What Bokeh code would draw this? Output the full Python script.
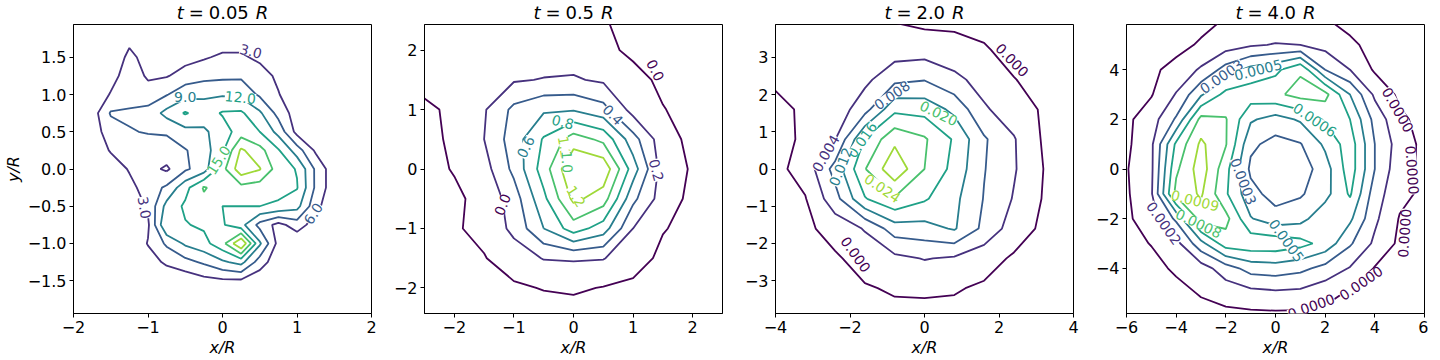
import numpy as np
from bokeh.plotting import figure
from bokeh.layouts import row, column
from bokeh.models import Label, FixedTicker
from bokeh.palettes import Viridis256
from bokeh.embed import file_html
from bokeh.resources import INLINE

FONT = "DejaVu Sans"
FW, FH = 298, 289
TH = 24  # height of the title strip above each panel

# ---------------- panel 1 : t = 0.05 R ----------------
title1 = "0.05"
x1 = [-2.0, -1.75, -1.5, -1.25, -1.0, -0.75, -0.5, -0.25, 0.0,
      0.25, 0.5, 0.75, 1.0, 1.25, 1.5, 1.75, 2.0]
y1 = [2.0, 1.75, 1.5, 1.25, 1.0, 0.75, 0.5, 0.25, 0.0,
      -0.25, -0.5, -0.75, -1.0, -1.25, -1.5, -1.75, -2.0]
z1 = [
    [0, 0, 0, 0, 0, 0, 0, 0, 0, 0, 0, 0, 0, 0, 0, 0, 0],
    [0, 0, 0, 2, 1, 0, 0, 0.5, 1.5, 1.5, 1, 0, 0, 0, 0, 0, 0],
    [0, 0, 0, 4, 1.5, 1, 2, 2.7, 3.5, 3.5, 2.3, 0.5, 0, 0, 0, 0, 0],
    [0, 0, 1.5, 5, 2.5, 2.8, 4.2, 5, 5.3, 5.5, 4.5, 2.3, 0, 0, 0, 0, 0],
    [0, 0, 3.3, 4.5, 4.5, 5.8, 8, 8.5, 8.7, 8.2, 5.5, 3.2, 0.5, 0, 0, 0, 0],
    [0, 1.5, 6.3, 6.5, 7, 10, 12.3, 10.5, 12.3, 12.5, 9.5, 5, 1.5, 0, 0, 0, 0],
    [0, 1.5, 4.5, 5.8, 6.2, 6.3, 8, 8.5, 10.5, 13.5, 12, 8, 2, 0, 0, 0, 0],
    [0, 0.5, 3.3, 4.5, 4.5, 4.8, 5.8, 7.5, 11.5, 18.5, 16, 12.3, 7.5, 2.5, 0, 0, 0],
    [0, 0, 1, 3.3, 4, 2.5, 5.5, 7.5, 14, 20, 18.2, 13.5, 11.8, 5.5, 1, 0, 0],
    [0, 0, 0.5, 2, 4.5, 6.5, 11, 15.3, 13.5, 14, 13.5, 13, 12.2, 5.5, 1, 0, 0],
    [0, 0, 0, 0.5, 3.5, 10, 12.5, 14, 12, 12, 12, 11.5, 10, 4, 0.5, 0, 0],
    [0, 0, 0, 0, 2.5, 12, 11.8, 12.5, 12.3, 10, 5, 2, 4.5, 1.5, 0, 0, 0],
    [0, 0, 0, 0, 3.2, 6.5, 9.5, 11, 14, 21, 9.5, 2, 0.5, 0, 0, 0, 0],
    [0, 0, 0, 0, 1.5, 3.6, 5, 6.5, 8.5, 10, 4.5, 1, 0, 0, 0, 0, 0],
    [0, 0, 0, 0, 0, 0.5, 1, 2, 2.5, 2.5, 1, 0, 0, 0, 0, 0, 0],
    [0, 0, 0, 0, 0, 0, 0, 0, 0, 0, 0, 0, 0, 0, 0, 0, 0],
    [0, 0, 0, 0, 0, 0, 0, 0, 0, 0, 0, 0, 0, 0, 0, 0, 0],
]
scale1 = 1.0
levels1 = [3.0, 6.0, 9.0, 12.0, 15.0, 18.0]
colidx1 = [1, 2, 3, 4, 5, 6]
xr1, yr1 = (-2.0, 2.0), (-1.94, 1.94)
xticks1 = [-2, -1, 0, 1, 2]
xticklab1 = ["−2", "−1", "0", "1", "2"]
yticks1 = [-1.5, -1.0, -0.5, 0.0, 0.5, 1.0, 1.5]
yticklab1 = ["−1.5", "−1.0", "−0.5", "0.0", "0.5", "1.0", "1.5"]
clabels1 = [("3.0", 0.38, 1.58, -0.25, 1), ("9.0", -0.5, 0.96, 0.0, 3),
            ("12.0", 0.24, 0.96, -0.1, 4), ("15.0", -0.05, 0.12, 1.0, 5),
            ("3.0", -1.05, -0.52, -1.4, 1), ("6.0", 1.22, -0.6, 1.0, 2)]

# ---------------- panel 2 : t = 0.5 R ----------------
title2 = "0.5"
x2 = [-2.5, -2.0, -1.5, -1.0, -0.5, 0.0, 0.5, 1.0, 1.5, 2.0, 2.5]
y2 = [2.5, 2.0, 1.5, 1.0, 0.5, 0.0, -0.5, -1.0, -1.5, -2.0, -2.5]
z2 = [
    [0.05, 0.05, 0.05, 0.05, 0.05, 0.05, 0.01, -0.05, -0.05, -0.05, -0.05],
    [0.05, 0.05, 0.05, 0.06, 0.08, 0.1, 0.06, -0.05, -0.05, -0.05, -0.05],
    [0.05, 0.05, 0.08, 0.18, 0.21, 0.22, 0.17, 0.08, -0.05, -0.08, -0.1],
    [-0.03, 0.03, 0.18, 0.45, 0.57, 0.58, 0.47, 0.12, 0.01, -0.08, -0.1],
    [-0.05, 0.03, 0.2, 0.5, 0.82, 1.1, 0.95, 0.48, 0.08, -0.05, -0.1],
    [-0.05, 0.01, 0.12, 0.45, 0.9, 1.4, 1.35, 0.7, 0.1, -0.02, -0.1],
    [-0.1, -0.03, 0.05, 0.3, 0.75, 1.25, 1.1, 0.45, 0.1, -0.05, -0.1],
    [-0.1, -0.02, 0.05, 0.25, 0.6, 0.9, 0.7, 0.2, 0.01, -0.05, -0.1],
    [-0.1, -0.08, -0.01, 0.1, 0.21, 0.22, 0.21, 0.08, -0.04, -0.1, -0.1],
    [-0.1, -0.1, -0.08, -0.03, 0.01, 0.03, -0.01, -0.04, -0.08, -0.1, -0.1],
    [-0.1, -0.1, -0.1, -0.1, -0.1, -0.1, -0.1, -0.1, -0.1, -0.1, -0.1],
]
scale2 = 1.0
levels2 = [0.0, 0.2, 0.4, 0.6, 0.8, 1.0, 1.2]
colidx2 = [0, 1, 2, 3, 4, 5, 6]
xr2, yr2 = (-2.5, 2.5), (-2.43, 2.43)
xticks2 = [-2, -1, 0, 1, 2]
xticklab2 = ["−2", "−1", "0", "1", "2"]
yticks2 = [-2, -1, 0, 1, 2]
yticklab2 = ["−2", "−1", "0", "1", "2"]
clabels2 = [("0.0", 1.37, 1.66, -1.1, 0), ("0.4", 0.66, 0.91, -0.8, 2),
            ("0.8", -0.18, 0.79, -0.25, 4), ("0.6", -0.8, 0.37, 1.1, 3),
            ("1.2", -0.15, 0.37, -1.4, 6), ("1.0", -0.11, 0.12, -1.5, 5),
            ("1.2", 0.04, -0.46, -1.0, 6), ("0.2", 1.39, -0.02, -1.3, 1),
            ("0.0", -1.19, -0.6, 1.2, 0)]

# ---------------- panel 3 : t = 2.0 R ----------------
title3 = "2.0"
x3 = [-4.0, -3.2, -2.4, -1.6, -0.8, 0.0, 0.8, 1.6, 2.4, 3.2, 4.0]
y3 = [4.0, 3.2, 2.4, 1.6, 0.8, 0.0, -0.8, -1.6, -2.4, -3.2, -4.0]
z3 = [  # in units of 1e-3
    [0.2, 0.2, 0.2, 0.1, -0.2, -1, -1, -1, -1, -1, -1],
    [0.3, 0.3, 0.4, 0.8, 2, 2.2, 1.5, 0.3, -1, -1, -1],
    [0.3, 0.5, 1, 3, 7, 7.8, 5, 2.5, 0.1, -1, -1],
    [-0.5, 0.3, 1.5, 6.5, 15, 14.5, 11, 4.5, 2, -0.5, -1],
    [-1, 0.5, 3.8, 16.3, 23, 20.5, 15.5, 8.5, 4.3, -0.5, -1],
    [-1, 1.5, 9.5, 19.8, 27, 20, 14.7, 8.2, 4.4, -0.05, -1],
    [-1, -0.2, 6.5, 15.7, 19.5, 16.5, 13, 7.8, 3.7, -0.3, -1],
    [-1, -0.8, 1.5, 4.3, 10, 10.5, 12.4, 7, 2, -0.8, -1],
    [-1, -1, -0.5, 1.5, 3, 4.2, 3.5, 1.5, -0.5, -1, -1],
    [-1, -1, -1, -0.3, 0.4, 0.5, 0.3, -0.5, -1, -1, -1],
    [-1, -1, -1, -1, -1, -1, -1, -1, -1, -1, -1],
]
scale3 = 1e-3
levels3 = [0.0, 0.004, 0.008, 0.012, 0.016, 0.020, 0.024]
colidx3 = [0, 1, 2, 3, 4, 5, 6]
xr3, yr3 = (-4.0, 4.0), (-3.88, 3.88)
xticks3 = [-4, -2, 0, 2, 4]
xticklab3 = ["−4", "−2", "0", "2", "4"]
yticks3 = [-3, -2, -1, 0, 1, 2, 3]
yticklab3 = ["−3", "−2", "−1", "0", "1", "2", "3"]
clabels3 = [("0.000", 2.35, 2.92, -0.8, 0), ("0.008", -0.87, 1.98, 0.6, 2),
            ("0.020", 0.38, 1.49, -0.45, 5), ("0.004", -2.65, 0.42, 1.05, 1),
            ("0.016", -1.67, 0.78, 0.95, 4), ("0.012", -2.25, 0.06, 1.2, 3),
            ("0.024", -1.13, -0.52, -0.6, 6), ("0.000", -1.85, -2.3, -0.95, 0)]

# ---------------- panel 4 : t = 4.0 R ----------------
title4 = "4.0"
x4 = [-6.0, -5.0, -4.0, -3.0, -2.0, -1.0, 0.0, 1.0, 2.0, 3.0, 4.0, 5.0, 6.0]
y4 = [6.0, 5.0, 4.0, 3.0, 2.0, 1.0, 0.0, -1.0, -2.0, -3.0, -4.0, -5.0, -6.0]
z4 = [  # in units of 1e-4
    [-0.5, -0.5, -0.5, -0.5, 0.1, 0.2, 0.2, 0.2, 0.1, -0.5, -0.5, -0.5, -0.5],
    [-0.5, -0.5, -0.5, 0.2, 0.8, 1.3, 1.6, 1.5, 1.0, 0.3, -0.5, -0.5, -0.5],
    [-0.5, -0.3, 0.5, 1.7, 3.6, 5.0, 5.6, 7.3, 3.0, 1.5, -0.2, -0.5, -0.5],
    [-0.5, -0.1, 1.6, 4.3, 6.5, 6.8, 7.2, 8.0, 8.0, 4.5, 1.2, -0.3, -0.5],
    [-0.3, 0.8, 3.2, 8.0, 7.6, 4.7, 3.9, 4.7, 6.2, 6.0, 2.5, 0.3, -0.5],
    [-0.3, 1.2, 6.3, 9.3, 7.6, 3.3, 2.5, 2.9, 4.8, 6.8, 3.0, 0.8, -0.4],
    [-0.1, 1.2, 7.2, 9.8, 6.5, 2.7, 2.0, 2.2, 3.8, 6.8, 3.0, 0.5, -0.3],
    [-0.2, 1.3, 8.0, 9.2, 6.2, 3.5, 2.4, 2.8, 4.0, 6.2, 2.2, 0.4, -0.3],
    [-0.3, 0.9, 3.3, 8.3, 8.0, 4.6, 3.6, 4.0, 5.5, 4.8, 1.8, -0.1, -0.3],
    [-0.4, 0.05, 1.0, 4.0, 6.8, 7.0, 7.0, 6.5, 5.5, 3.2, 1.2, -0.3, -0.5],
    [-0.5, -0.4, 0.2, 0.8, 2.3, 3.6, 3.8, 3.4, 2.5, 1.4, -0.1, -0.4, -0.5],
    [-0.5, -0.5, -0.4, 0.1, 0.6, 1.0, 1.2, 1.1, 0.5, -0.2, -0.5, -0.5, -0.5],
    [-0.5, -0.5, -0.5, -0.5, -0.5, -0.5, -0.5, -0.5, -0.5, -0.5, -0.5, -0.5, -0.5],
]
scale4 = 1e-4
levels4 = [0.0, 0.00015, 0.0003, 0.00045, 0.0006, 0.00075, 0.0009]
colidx4 = [0, 1, 2, 3, 4, 5, 6]
xr4, yr4 = (-6.0, 6.0), (-5.82, 5.82)
xticks4 = [-6, -4, -2, 0, 2, 4, 6]
xticklab4 = ["−6", "−4", "−2", "0", "2", "4", "6"]
yticks4 = [-4, -2, 0, 2, 4]
yticklab4 = ["−4", "−2", "0", "2", "4"]
clabels4 = [("0.0003", -2.17, 3.72, 0.6, 2), ("0.0005", -0.7, 3.99, 0.25, 3),
            ("0.0006", 1.58, 1.97, -0.6, 4), ("0.0000", 4.92, 2.38, -1.05, 0),
            ("0.0000", 5.5, -0.04, -1.5, 0), ("0.0003", -1.3, -0.5, -1.2, 2),
            ("0.0009", -3.24, -1.28, -0.25, 6), ("0.0008", -3.1, -2.2, -0.45, 5),
            ("0.0002", -4.5, -2.19, -0.95, 1), ("0.0005", 0.44, -2.89, -0.95, 3),
            ("0.0000", 5.2, -2.59, 1.5, 0), ("0.0000", 3.45, -4.6, 0.6, 0),
            ("0.0000", 1.44, -5.54, 0.35, 0)]


def cmap(k):
    return Viridis256[min(int(k / 7 * 256), 255)]


def make_title(xr, num, bl, br):
    """Thin strip above a panel holding the 't = ... R' title as real text."""
    t = figure(x_range=xr, y_range=(0, TH), frame_width=FW, frame_height=TH,
               output_backend="svg", toolbar_location=None,
               x_axis_location=None, y_axis_location=None,
               min_border_left=bl, min_border_right=br,
               min_border_top=0, min_border_bottom=0)
    t.outline_line_color = None
    t.grid.visible = False
    t.background_fill_color = "white"
    t.border_fill_color = "white"
    fs = 18
    ppx = (xr[1] - xr[0]) / FW
    w_t, w_eq, w_R = 0.392 * fs, 0.838 * fs, 0.695 * fs
    w_num = sum(0.318 * fs if ch == "." else 0.636 * fs for ch in num)
    g1 = g2 = 0.27 * fs
    g3 = 0.38 * fs
    W = w_t + g1 + w_eq + g2 + w_num + g3 + w_R
    x0 = 0.5 * (xr[0] + xr[1]) - 0.5 * W * ppx
    yb = 12  # vertical centre of the title line inside the strip
    parts = [("t", 0.0, "italic"), ("=", w_t + g1, "normal"),
             (num, w_t + g1 + w_eq + g2, "normal"),
             ("R", w_t + g1 + w_eq + g2 + w_num + g3, "italic")]
    for txt, off, style in parts:
        t.add_layout(Label(x=x0 + off * ppx, y=yb, text=txt, text_font=FONT,
                           text_font_style=style, text_font_size=f"{fs}px",
                           text_align="left", text_baseline="middle",
                           text_color="black"))
    return t


def make_panel(xs, ys, rows, scale, levels, colidx, xr, yr, xt, xtl, yt, ytl,
               clabels, ylabel, bl, br):
    p = figure(x_range=xr, y_range=yr, frame_width=FW, frame_height=FH,
               output_backend="svg", toolbar_location=None,
               min_border_left=bl, min_border_right=br,
               min_border_top=0, min_border_bottom=5)
    p.background_fill_color = "white"
    p.border_fill_color = "white"
    p.outline_line_color = "black"
    p.outline_line_alpha = 1.0
    p.outline_line_width = 1
    p.grid.visible = False

    Z = np.array(rows, dtype=float)[::-1] * scale
    Y = list(reversed(ys))
    colors = [cmap(k) for k in colidx]
    p.contour(x=xs, y=Y, z=Z, levels=levels, line_color=colors, line_width=1.8)

    for ax in (p.xaxis[0], p.yaxis[0]):
        ax.axis_line_color = "black"
        ax.major_tick_line_color = "black"
        ax.minor_tick_line_color = None
        ax.major_tick_out = 4
        ax.major_tick_in = 0
        ax.major_label_text_font = FONT
        ax.major_label_text_font_size = "16px"
        ax.major_label_text_color = "black"
        ax.major_label_standoff = 3
        ax.axis_label_text_font = FONT
        ax.axis_label_text_font_size = "16px"
        ax.axis_label_text_font_style = "italic"
        ax.axis_label_text_color = "black"
        ax.axis_label_standoff = 2
    p.xaxis[0].ticker = FixedTicker(ticks=xt)
    p.xaxis[0].major_label_overrides = dict(zip(xt, xtl))
    p.yaxis[0].ticker = FixedTicker(ticks=yt)
    p.yaxis[0].major_label_overrides = dict(zip(yt, ytl))
    p.xaxis[0].axis_label = "x/R"
    if ylabel:
        p.yaxis[0].axis_label = ylabel

    for txt, lx, ly, ang, k in clabels:
        p.add_layout(Label(x=lx, y=ly, text=txt, angle=ang, text_align="center",
                           text_baseline="middle", text_font=FONT,
                           text_font_size="14px", text_color=cmap(k),
                           background_fill_color="white",
                           background_fill_alpha=1.0))
    return p


B1, B = 71, 40
p1 = make_panel(x1, y1, z1, scale1, levels1, colidx1, xr1, yr1, xticks1, xticklab1,
                yticks1, yticklab1, clabels1, "y/R", B1, 13)
p2 = make_panel(x2, y2, z2, scale2, levels2, colidx2, xr2, yr2, xticks2, xticklab2,
                yticks2, yticklab2, clabels2, None, B, 13)
p3 = make_panel(x3, y3, z3, scale3, levels3, colidx3, xr3, yr3, xticks3, xticklab3,
                yticks3, yticklab3, clabels3, None, B, 13)
p4 = make_panel(x4, y4, z4, scale4, levels4, colidx4, xr4, yr4, xticks4, xticklab4,
                yticks4, yticklab4, clabels4, None, B, 4)

t1 = make_title(xr1, title1, B1, 13)
t2 = make_title(xr2, title2, B, 13)
t3 = make_title(xr3, title3, B, 13)
t4 = make_title(xr4, title4, B, 4)

layout = row(column(t1, p1), column(t2, p2), column(t3, p3), column(t4, p4))
open("out.html", "w").write(file_html(layout, INLINE))
